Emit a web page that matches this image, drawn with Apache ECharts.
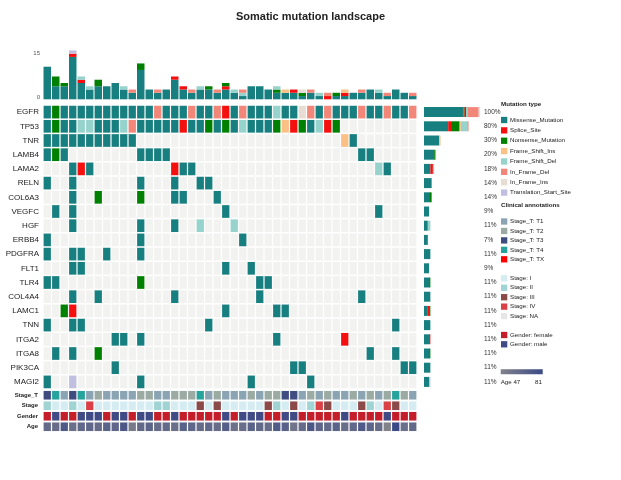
<!DOCTYPE html>
<html><head><meta charset="utf-8">
<script src="https://cdn.jsdelivr.net/npm/echarts@6/dist/echarts.min.js"></script>
<style>html,body{margin:0;padding:0;background:#fff}#c{width:621px;height:480px}</style>
</head><body><div id="c"></div>
<script>
const FONT = '"Liberation Sans", Arial, Helvetica, sans-serif';

const genes = ['EGFR','TP53','TNR','LAMB4','LAMA2','RELN','COL6A3','VEGFC','HGF','ERBB4','PDGFRA','FLT1','TLR4','COL4A4','LAMC1','TNN','ITGA2','ITGA8','PIK3CA','MAGI2'];
const pctLabels = ['100%','80%','30%','20%','18%','14%','14%','9%','11%','7%','11%','9%','11%','11%','11%','11%','11%','11%','11%','11%'];
const mutTypes = ['Missense_Mutation','Splice_Site','Nonsense_Mutation','Frame_Shift_Ins','Frame_Shift_Del','In_Frame_Del','In_Frame_Ins','Translation_Start_Site'];
const mutCodes = ['M','S','N','I','D','d','i','T'];
const mutColors = ['#177F80','#F51010','#008000','#FBC085','#97D3CD','#F28779','#E7DDD2','#C1BFDF'];
const yTicksTop = [0, 15];

// one string per gene, one character per sample ('.' = no mutation)
const mutMatrix = [
  'MNMMMMMMMM MMMdMMMdMM dSMdMMMDMM idMdMMMdMM dMMd', // EGFR
  'MNMMDDMMMD dMMMMMSMMN MNMDMMMNIS NMDSN..... ....', // TP53
  'MMMMMMMMMM M......... .......... .....IM... ....', // TNR
  'MNM....... .MMMM..... .......... .......MM. ....', // LAMB4
  '...MSM.... .....SMM.. .......... .........D M...', // LAMA2
  'M..M...... .M...M..MM .......... .......... ....', // RELN
  '...M..N... .N...MM... M......... .......... ....', // COL6A3
  '.M.M...... .......... .M........ .........M ....', // VEGFC
  '...M...... .M...M..D. ..D....... .......... ....', // HGF
  'M......... .M........ ...M...... .......... ....', // ERBB4
  'M..MM..M.. .M........ .......... .......... ....', // PDGFRA
  '...MM..... .......... .M..M..... .......... ....', // FLT1
  'MM........ .N........ .....MM... .......... ....', // TLR4
  '...M..M... .....M.... .....M.... .......M.. ....', // COL4A4
  '..NS...... .......... .M.....MM. .......... ....', // LAMC1
  'M..MM..... .........M .......... .......... .M..', // TNN
  '........MM .M........ .......M.. .....S.... ....', // ITGA2
  '.M.M..N... .......... .......... ........M. .M..', // ITGA8
  '........M. .......... .........M M......... ..MM', // PIK3CA
  'M..T...... .M........ ....M..... .M........ ....'  // MAGI2
].map(s => s.replace(/ /g, ''));

const annRows = ['Stage_T','Stage','Gender','Age'];
const stageTNames = ['T1','T2','T3','T4','TX'];
const stageTColors = ['#8AA4B4','#9BABA3','#3F4C80','#26A39D','#FF0000'];
const stageT = ['T3','T4','T1','T3','T4','T1','T2','T1','T1','T1','T1','T2','T2','T1','T1','T2','T2','T2','T4','T1','T2','T1','T1','T1','T2','T1','T2','T2','T3','T3','T1','T2','T1','T2','T1','T1','T2','T1','T2','T1','T2','T4','T2','T1'];
const stageNames = ['I','II','III','IV','NA'];
const stageColors = ['#D4ECF2','#9FD3D4','#8B4A47','#DA4045','#E6E6E6'];
const stage = ['II','I','I','II','I','IV','I','I','I','I','I','I','I','II','II','I','I','I','III','I','III','I','I','I','I','I','III','II','I','III','I','II','IV','III','I','I','I','III','II','I','IV','III','I','I'];
const genderNames = ['female','male'];
const genderColors = ['#C41E2A','#404A84'];
const gender = ['female','male','female','female','male','male','male','female','male','male','female','male','male','female','female','male','female','female','female','female','female','male','female','male','male','male','female','female','male','male','female','female','female','female','female','male','female','female','female','female','male','female','female','female'];
const ages = [62,60,72,58,63,64,61,66,64,73,52,63,65,60,62,58,66,64,61,63,60,68,57,59,66,62,60,70,67,55,61,73,64,62,66,59,63,71,65,60,47,81,58,62];
const ageRange = [47, 81];
const ageColors = ['#82828B','#3B4A87'];

const nS = mutMatrix[0].length;
const samples = Array.from({length: nS}, (_, i) => 'S' + (i + 1));

// counts
const perSample = mutTypes.map(() => new Array(nS).fill(0));
const perGene = mutTypes.map(() => new Array(genes.length).fill(0));
const cellData = [];
mutMatrix.forEach((row, g) => {
  for (let s = 0; s < nS; s++) {
    const k = mutCodes.indexOf(row[s]);
    cellData.push([s, g, k]);
    if (k >= 0) { perSample[k][s]++; perGene[k][g]++; }
  }
});

function hexToRgb(h){return [1,3,5].map(i=>parseInt(h.substr(i,2),16));}
function lerpColor(a,b,t){const A=hexToRgb(a),B=hexToRgb(b);return 'rgb('+A.map((v,i)=>Math.round(v+(B[i]-v)*t)).join(',')+')';}

const annColors = [];
const annData = [];
for (let s = 0; s < nS; s++) {
  annColors.push(stageTColors[stageTNames.indexOf(stageT[s])]); annData.push([s, 0, annColors.length - 1]);
  annColors.push(stageColors[stageNames.indexOf(stage[s])]); annData.push([s, 1, annColors.length - 1]);
  annColors.push(genderColors[genderNames.indexOf(gender[s])]); annData.push([s, 2, annColors.length - 1]);
  annColors.push(lerpColor(ageColors[0], ageColors[1], (ages[s]-ageRange[0])/(ageRange[1]-ageRange[0]))); annData.push([s, 3, annColors.length - 1]);
}

const chart = echarts.init(document.getElementById('c'), null, {renderer: 'canvas'});

const hidden = {show:false};
const series = [];
mutTypes.forEach((t, k) => {
  series.push({
    name: t, type: 'bar', xAxisIndex: 0, yAxisIndex: 0, stack: 'tmb',
    data: perSample[k], barCategoryGap: '12%',
    itemStyle: {color: mutColors[k]}, silent: true
  });
});
series.push({
  type: 'custom', xAxisIndex: 1, yAxisIndex: 1, data: cellData, silent: true,
  renderItem(params, api) {
    const p = api.coord([api.value(0), api.value(1)]);
    const sz = api.size([1, 1]);
    const w = sz[0] - 1.2, h = sz[1] - 1.5;
    const k = api.value(2);
    return {type: 'rect', shape: {x: p[0] - w/2, y: p[1] - h/2, width: w, height: h},
            style: {fill: k < 0 ? '#F2F2F0' : mutColors[k]}};
  }
});
series.push({
  type: 'custom', xAxisIndex: 2, yAxisIndex: 2, data: annData, silent: true,
  renderItem(params, api) {
    const p = api.coord([api.value(0), api.value(1)]);
    const sz = api.size([1, 1]);
    const w = sz[0] - 1.2, h = sz[1] - 1.9;
    return {type: 'rect', shape: {x: p[0] - w/2, y: p[1] - h/2, width: w, height: h},
            style: {fill: annColors[api.value(2)]}};
  }
});
mutTypes.forEach((t, k) => {
  series.push({
    name: t, type: 'bar', xAxisIndex: 3, yAxisIndex: 3, stack: 'gene',
    data: perGene[k], barWidth: 10,
    itemStyle: {color: mutColors[k]}, silent: true
  });
});

// legend graphics
const g = [];
const txt = (x, y, text, bold, size, align) => ({type: 'text', x, y, style: {text, fill: '#222', font: (bold ? 'bold ' : '') + size + 'px ' + FONT, align: align || 'left', verticalAlign: 'middle'}});
const sq = (x, y, c) => ({type: 'rect', shape: {x: x, y: y - 3.15, width: 6.3, height: 6.3}, style: {fill: c}});
const LX = 501, TX = 510;
g.push(txt(LX, 104.3, 'Mutation type', true, 6.2));
mutTypes.forEach((t, k) => { const y = 120 + 10.37 * k; g.push(sq(LX, y, mutColors[k])); g.push(txt(TX, y, t, false, 6.2)); });
g.push(txt(LX, 205.7, 'Clinical annotations', true, 6.2));
stageTNames.forEach((t, k) => { const y = 221.5 + 9.45 * k; g.push(sq(LX, y, stageTColors[k])); g.push(txt(TX, y, 'Stage_T: ' + t, false, 6.2)); });
stageNames.forEach((t, k) => { const y = 278.3 + 9.45 * k; g.push(sq(LX, y, stageColors[k])); g.push(txt(TX, y, 'Stage: ' + t, false, 6.2)); });
genderNames.forEach((t, k) => { const y = 335 + 9.3 * k; g.push(sq(LX, y, genderColors[k])); g.push(txt(TX, y, 'Gender: ' + t, false, 6.2)); });
g.push({type: 'rect', shape: {x: 500.7, y: 369.3, width: 42, height: 5},
  style: {fill: new echarts.graphic.LinearGradient(0, 0, 1, 0, [{offset: 0, color: ageColors[0]}, {offset: 1, color: ageColors[1]}])}});
g.push(txt(500.7, 382.3, 'Age ' + ageRange[0], false, 6.2));
g.push(txt(542, 382.3, String(ageRange[1]), false, 6.2, 'right'));

const option = {
  animation: false,
  backgroundColor: '#fff',
  title: {text: 'Somatic mutation landscape', left: 'center', top: 6,
    textStyle: {fontFamily: FONT, fontSize: 11, fontWeight: 'bold', color: '#222'}},
  grid: [
    {left: 43, top: 50.4, width: 374, height: 48.9},
    {left: 43, top: 105, width: 374, height: 284},
    {left: 43, top: 390, width: 374, height: 42},
    {left: 424, top: 105, width: 56, height: 284}
  ],
  xAxis: [
    {type: 'category', gridIndex: 0, data: samples, show: false},
    {type: 'category', gridIndex: 1, data: samples, show: false},
    {type: 'category', gridIndex: 2, data: samples, show: false},
    {type: 'value', gridIndex: 3, min: 0, max: nS, show: false}
  ],
  yAxis: [
    {type: 'value', gridIndex: 0, min: yTicksTop[0], max: yTicksTop[1], interval: yTicksTop[1],
      axisLine: hidden, axisTick: hidden, splitLine: hidden,
      axisLabel: {margin: 3, color: '#555', fontFamily: FONT, fontSize: 6,
        formatter: v => v === 0 ? '{lo|' + v + '}' : '{hi|' + v + '}',
        rich: {lo: {padding: [0, 0, 4, 0], fontSize: 6, color: '#555', fontFamily: FONT},
               hi: {padding: [6, 0, 0, 0], fontSize: 6, color: '#555', fontFamily: FONT}}}},
    {type: 'category', gridIndex: 1, data: genes, inverse: true,
      axisLine: hidden, axisTick: hidden,
      axisLabel: {margin: 4, color: '#222', fontFamily: FONT, fontSize: 8}},
    {type: 'category', gridIndex: 2, data: annRows, inverse: true,
      axisLine: hidden, axisTick: hidden,
      axisLabel: {margin: 5, color: '#222', fontFamily: FONT, fontSize: 6, fontWeight: 'bold'}},
    {type: 'category', gridIndex: 3, data: genes, inverse: true, position: 'right',
      axisLine: hidden, axisTick: hidden,
      axisLabel: {margin: 4, color: '#333', fontFamily: FONT, fontSize: 6.5,
        formatter: (v, i) => pctLabels[i]}}
  ],
  series,
  graphic: {elements: g}
};
chart.setOption(option);
</script>
</body></html>
